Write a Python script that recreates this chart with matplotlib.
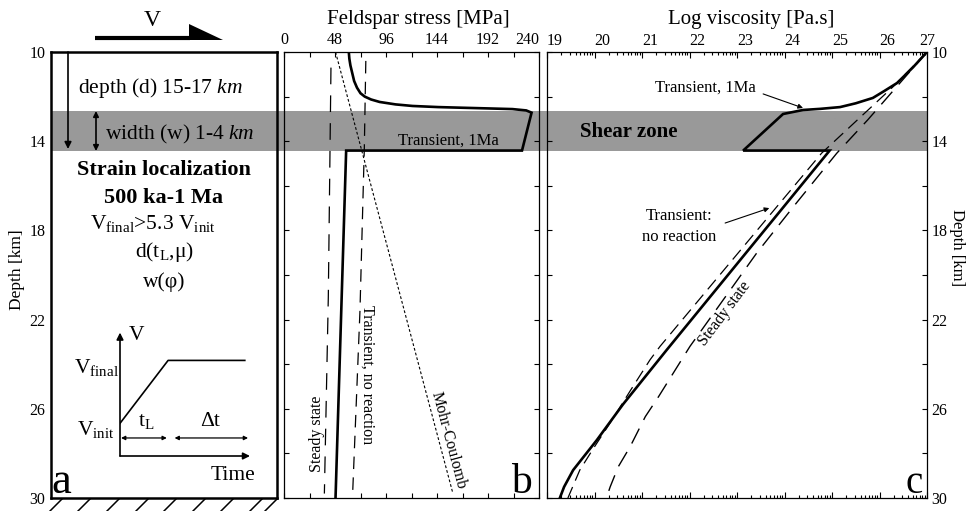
import numpy as np
import matplotlib
matplotlib.use("Agg")
import matplotlib.pyplot as plt
from matplotlib import transforms
from matplotlib.patches import Rectangle, Polygon

plt.rcParams["font.family"] = "Liberation Serif"
plt.rcParams["mathtext.fontset"] = "custom"
plt.rcParams["mathtext.rm"] = "Liberation Serif"
plt.rcParams["mathtext.it"] = "Liberation Serif:italic"
plt.rcParams["mathtext.bf"] = "Liberation Serif:bold"
plt.rcParams["lines.scale_dashes"] = False

# shear zone (depth in km)
sz_top, sz_base = 12.65, 14.45

depth_ticks = [10, 14, 18, 22, 26, 30]
depth_minor = [12, 16, 20, 24, 28]
stress_ticks = [0, 48, 96, 144, 192, 240]
visc_ticks = [19, 20, 21, 22, 23, 24, 25, 26, 27]

# panel b: feldspar stress [MPa]
tr_stress = [61, 61.5, 62.5, 64, 66, 68.7, 72, 76, 82, 90, 105, 121, 145, 168,
             192, 215, 228, 233, 224, 58.5, 48.5]
tr_stress_depth = [10, 10.3, 10.6, 10.9, 11.3, 11.6, 11.85, 12.0, 12.13, 12.24,
                   12.35, 12.42, 12.47, 12.5, 12.53, 12.56, 12.62, 12.72, 14.42,
                   14.42, 30]
ss_stress = [44.2, 41.7, 38.0]
ss_stress_depth = [10.7, 21.0, 29.8]
nr_stress = [77.0, 75.6, 71.5, 64.6]
nr_stress_depth = [10.4, 14.3, 21.6, 29.8]
mc_stress = [48.5, 159.0]
mc_stress_depth = [10.0, 29.8]

# panel c: log viscosity [Pa.s]
tr_visc = [27.0, 26.7, 26.37, 26.1, 25.86, 25.5, 25.17, 24.75, 24.39, 23.97,
           23.13, 24.95, 21.52, 20.6, 20.05, 19.55, 19.36, 19.27]
tr_visc_depth = [10.0, 10.7, 11.39, 11.75, 12.06, 12.3, 12.47, 12.55, 12.6, 12.78,
                 14.42, 14.42, 23.36, 25.8, 27.4, 28.75, 29.5, 30.0]
nr_visc = [27.0, 26.28, 24.78, 21.38, 21.17, 20.75, 20.37, 19.97, 19.69, 19.44]
nr_visc_depth = [10.0, 11.57, 14.54, 23.2, 23.8, 25.2, 26.5, 27.8, 28.75, 30.0]
ss_visc = [27.0, 25.75, 25.1, 24.19, 23.41, 22.01, 21.35, 21.07, 20.75, 20.5, 20.33, 20.25]
ss_visc_depth = [10.0, 13.05, 14.54, 16.93, 19.03, 23.2, 25.45, 26.35, 27.7, 28.6, 29.5, 30.0]

# V(t) sketch in panel a (normalised)
ramp_time = [0.0, 0.37, 0.96]
ramp_vel = [0.27, 0.79, 0.79]

W, H = 968, 511
BAND = "#999999"


def fig_box(left, top, right, bottom):
    return [left / W, 1 - bottom / H, (right - left) / W, (bottom - top) / H]


fig = plt.figure(figsize=(W / 100, H / 100), dpi=100)
ax_a = fig.add_axes(fig_box(51, 52, 277, 498), facecolor="none")
ax_b = fig.add_axes(fig_box(284, 52, 539, 498), facecolor="none")
ax_c = fig.add_axes(fig_box(547, 52, 927, 498), facecolor="none")

# gray shear-zone band running across all panels
trans = transforms.blended_transform_factory(fig.transFigure, ax_a.transData)
fig.add_artist(Rectangle((51 / W, sz_top), (927 - 51) / W, sz_base - sz_top,
                         transform=trans, facecolor=BAND, lw=0, zorder=-1))

# ---- panel a
ax_a.set_ylim(30, 10); ax_a.set_xlim(0, 1)
ax_a.set_yticks(depth_ticks); ax_a.set_xticks([])
ax_a.tick_params(axis="y", length=0, pad=4, labelsize=11.5)
for s in ax_a.spines.values():
    s.set_linewidth(1.8)
ax_a.text(0.044, 0.011, "a", transform=ax_a.transAxes, fontsize=32,
          ha="center", va="baseline")

ax_o = fig.add_axes([0, 0, 1, 1], facecolor="none")
ax_o.set_xlim(0, W); ax_o.set_ylim(H, 0); ax_o.axis("off")

ax_o.plot([95, 190], [38, 38], color="k", lw=3, solid_capstyle="butt")
ax_o.add_patch(Polygon([(189, 24), (223, 40), (189, 40)], closed=True, color="k", lw=0))
ax_o.text(152, 20, "V", fontsize=17, ha="center", va="center")

arr = dict(color="k", lw=1.2, shrinkA=0, shrinkB=0)
ax_o.annotate("", xy=(68, 149), xytext=(68, 52),
              arrowprops=dict(arrowstyle="-|>", mutation_scale=10, **arr))
ax_o.annotate("", xy=(96, 151), xytext=(96, 111),
              arrowprops=dict(arrowstyle="<|-|>", mutation_scale=8, **arr))
ax_o.text(78, 93, r"depth (d) $\mathit{15}$-$\mathit{17\ km}$", fontsize=15.5,
          ha="left", va="baseline")
ax_o.text(105, 139, r"width (w) $\mathit{1}$-$\mathit{4\ km}$", fontsize=15.5,
          ha="left", va="baseline")
ax_o.text(164, 175, "Strain localization", fontsize=16, fontweight="bold",
          ha="center", va="baseline")
ax_o.text(164, 203, "500 ka-1 Ma", fontsize=16, fontweight="bold",
          ha="center", va="baseline")
ax_o.text(153, 229, r"V$_{\mathrm{final}}$>5.3 V$_{\mathrm{init}}$", fontsize=15.5,
          ha="center", va="baseline")
ax_o.text(164, 257, r"d(t$_{\mathrm{L}}$,μ)", fontsize=15.5, ha="center", va="baseline")
ax_o.text(164, 287, "w(φ)", fontsize=15.5, ha="center", va="baseline")

for x in [62, 90, 119, 148, 176, 205, 233, 262, 277]:
    ax_o.plot([x - 13, x], [512, 499], color="k", lw=1.1)

# V(t) inset
ax_in = fig.add_axes(fig_box(120, 335, 250, 456), facecolor="none")
ax_in.set_xlim(0, 1); ax_in.set_ylim(0, 1); ax_in.axis("off")
ax_in.plot(ramp_time, ramp_vel, color="k", lw=1.2)
ax_in.annotate("", xy=(0, 1.02), xytext=(0, 0), annotation_clip=False,
               arrowprops=dict(arrowstyle="-|>", mutation_scale=10, **arr))
ax_in.annotate("", xy=(1.0, 0), xytext=(0, 0), annotation_clip=False,
               arrowprops=dict(arrowstyle="-|>", mutation_scale=10, **arr))
ax_in.annotate("", xy=(0.36, 0.149), xytext=(0.008, 0.149), annotation_clip=False,
               arrowprops=dict(arrowstyle="<|-|>", mutation_scale=6, color="k", lw=0.9,
                               shrinkA=0, shrinkB=0))
ax_in.annotate("", xy=(0.985, 0.149), xytext=(0.42, 0.149), annotation_clip=False,
               arrowprops=dict(arrowstyle="<|-|>", mutation_scale=6, color="k", lw=0.9,
                               shrinkA=0, shrinkB=0))
ax_in.text(0.13, 1.0, "V", fontsize=15.5, ha="center", va="center")
ax_in.text(-0.01, 0.686, r"V$_{\mathrm{final}}$", fontsize=15.5, ha="right", va="baseline")
ax_in.text(-0.04, 0.174, r"V$_{\mathrm{init}}$", fontsize=15.5, ha="right", va="baseline")
ax_in.text(0.2, 0.248, r"t$_{\mathrm{L}}$", fontsize=15.5, ha="center", va="baseline")
ax_in.text(0.69, 0.248, "Δt", fontsize=15.5, ha="center", va="baseline")
ax_in.text(0.87, -0.165, "Time", fontsize=15.5, ha="center", va="center")

fig.text(17 / W, 1 - 270 / H, "Depth [km]", rotation=90, fontsize=12.5,
         ha="center", va="center")
fig.text(957 / W, 1 - 248 / H, "Depth [km]", rotation=-90, fontsize=12,
         ha="center", va="center")

# ---- panel b
ax_b.plot(ss_stress, ss_stress_depth, color="k", lw=0.9, dashes=(12, 8))
ax_b.plot(nr_stress, nr_stress_depth, color="k", lw=0.9, dashes=(9, 6))
ax_b.plot(mc_stress, mc_stress_depth, color="k", lw=0.8, dashes=(2, 1.5))
ax_b.plot(tr_stress, tr_stress_depth, color="k", lw=1.9, solid_joinstyle="miter")
ax_b.set_xlim(0, 240); ax_b.set_ylim(30, 10)
ax_b.xaxis.tick_top()
ax_b.set_xticks(stress_ticks)
ax_b.set_xticks(np.arange(0, 241, 24), minor=True)
ax_b.set_yticks(depth_ticks)
ax_b.set_yticks(depth_minor, minor=True)
ax_b.tick_params(which="both", direction="in", top=True, bottom=True, left=True,
                 right=True, labelleft=False, labelbottom=False, labeltop=True,
                 length=3.5, width=0.8, labelsize=11.5, pad=3)
ax_b.get_xticklabels()[-1].set_ha("right")
for s in ax_b.spines.values():
    s.set_linewidth(0.9)

ax_b.text(154.4, 13.99, "Transient, 1Ma", fontsize=12, ha="center", va="center")
ax_b.text(31, 27.13, "Steady state", fontsize=11.5, rotation=90,
          ha="center", va="center")
ax_b.text(78, 24.48, "Transient, no reaction", fontsize=11.5, rotation=-90,
          ha="center", va="center")
ax_b.text(154.6, 27.4, "Mohr-Coulomb", fontsize=11.5, rotation=-75,
          ha="center", va="center", rotation_mode="anchor")
ax_b.text(223, 29.78, "b", fontsize=30, ha="center", va="baseline")
fig.text(418 / W, 1 - 24 / H, "Feldspar stress [MPa]", fontsize=15,
         ha="center", va="baseline")

# ---- panel c
ax_c.plot(nr_visc, nr_visc_depth, color="k", lw=0.9, dashes=(9, 5))
ax_c.plot(ss_visc, ss_visc_depth, color="k", lw=1.0, dashes=(12, 7))
ax_c.plot(tr_visc, tr_visc_depth, color="k", lw=1.9, solid_joinstyle="miter")
ax_c.set_xlim(19, 27); ax_c.set_ylim(30, 10)
ax_c.xaxis.tick_top()
ax_c.set_xticks(visc_ticks)
ax_c.set_xticks([n + np.log10(k) for n in visc_ticks[:-1] for k in range(2, 10)],
                minor=True)
ax_c.set_yticks(depth_ticks)
ax_c.set_yticks(depth_minor, minor=True)
ax_c.tick_params(which="both", direction="in", top=True, bottom=True, left=True,
                 right=True, labelleft=False, labelbottom=False, labeltop=True,
                 labelright=True, width=0.8, labelsize=11.5)
ax_c.tick_params(axis="x", which="major", length=4.5, pad=2)
ax_c.tick_params(axis="x", which="minor", length=2.2)
ax_c.tick_params(axis="y", which="both", length=3.5, pad=3)
for lab in ax_c.get_xticklabels()[:-1]:
    lab.set_ha("left")
for s in ax_c.spines.values():
    s.set_linewidth(0.9)

ax_c.text(22.33, 11.6, "Transient, 1Ma", fontsize=12, ha="center", va="center")
ax_c.annotate("", xy=(24.39, 12.51), xytext=(23.55, 11.88),
              arrowprops=dict(arrowstyle="-|>", mutation_scale=7, color="k", lw=0.8,
                              shrinkA=0, shrinkB=0))
ax_c.text(21.78, 17.35, "Transient:", fontsize=12, ha="center", va="center")
ax_c.text(21.78, 18.3, "no reaction", fontsize=12, ha="center", va="center")
ax_c.annotate("", xy=(23.68, 17.0), xytext=(22.75, 17.67),
              arrowprops=dict(arrowstyle="-|>", mutation_scale=7, color="k", lw=0.8,
                              shrinkA=0, shrinkB=0))
ax_c.text(20.73, 13.59, "Shear zone", fontsize=15, fontweight="bold",
          ha="center", va="center")
ax_c.text(22.73, 21.75, "Steady state", fontsize=11.5, rotation=53,
          ha="center", va="center", rotation_mode="anchor")
ax_c.text(26.73, 29.78, "c", fontsize=28, ha="center", va="baseline")
fig.text(751 / W, 1 - 24 / H, "Log viscosity [Pa.s]", fontsize=15,
         ha="center", va="baseline")

fig.savefig("out.png", dpi=100)
